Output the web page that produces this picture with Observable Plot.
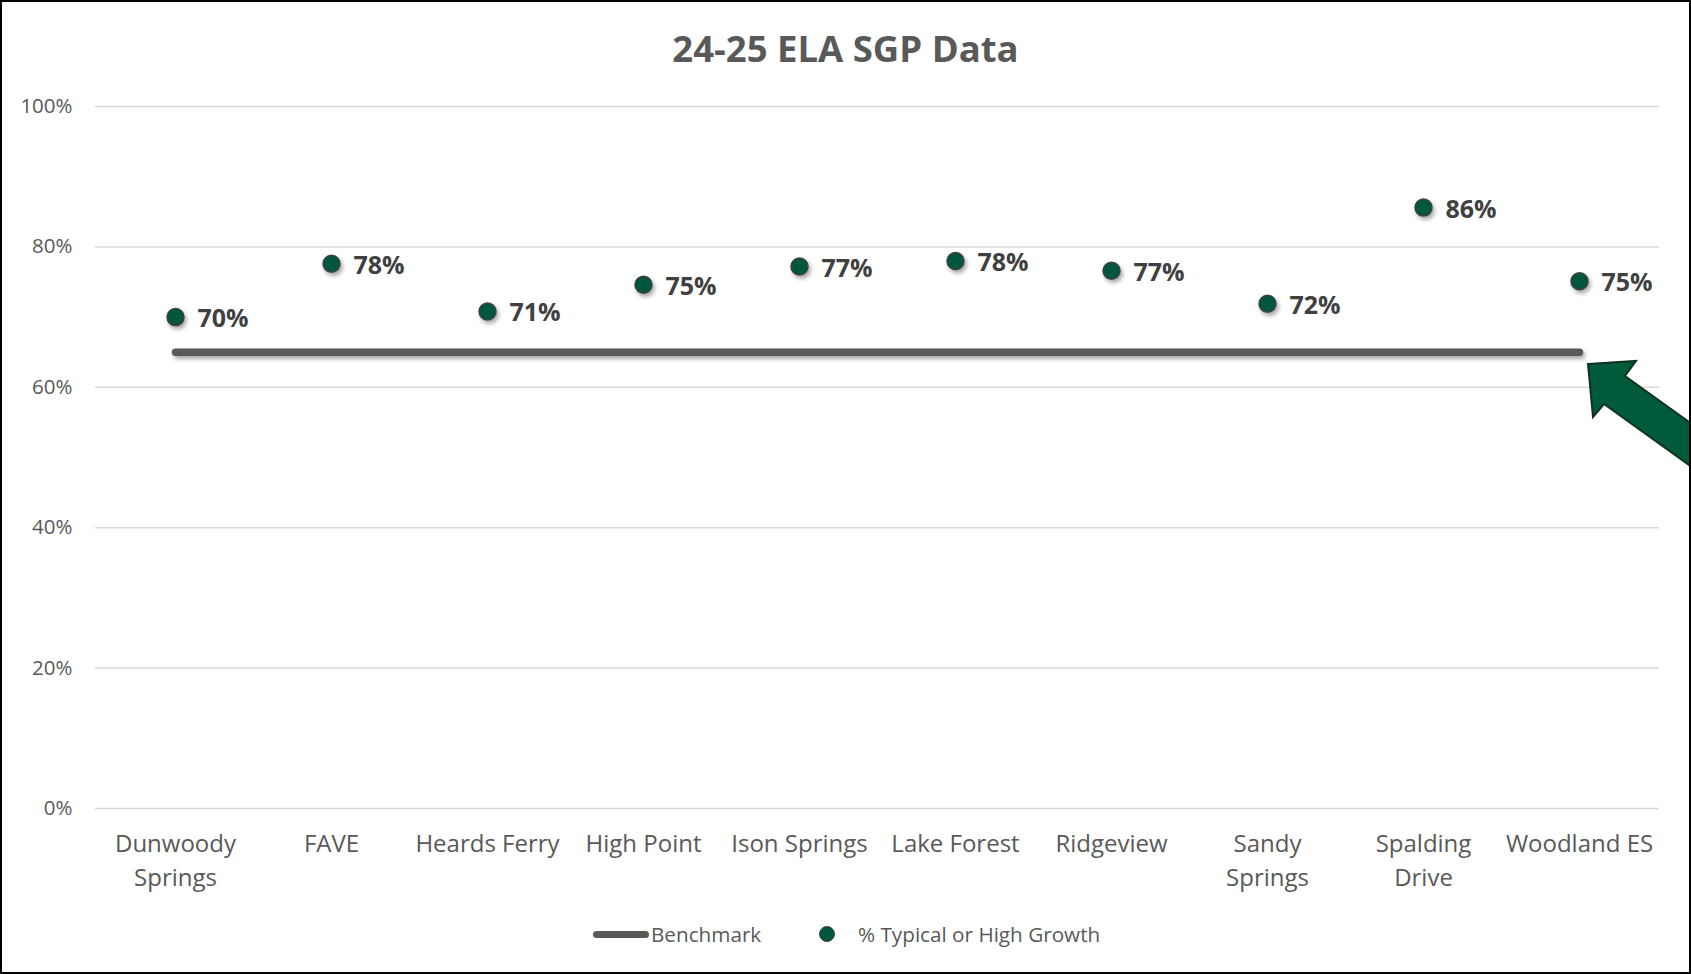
<!DOCTYPE html>
<html><head><meta charset="utf-8">
<script src="https://cdn.jsdelivr.net/npm/d3@7"></script>
<script src="https://cdn.jsdelivr.net/npm/@observablehq/plot@0.6"></script>
<style>
html,body{margin:0;padding:0;background:#fff;}
#frame{position:relative;width:1687px;height:970px;border:2px solid #000;overflow:hidden;font-family:"Open Sans",sans-serif;background:#fff;}
#title{position:absolute;left:0;top:28px;width:100%;text-align:center;font-size:36.5px;line-height:36px;font-weight:700;color:#595959;}
#chart{position:absolute;left:0;top:58px;}
#legend{position:absolute;left:0;top:0;width:100%;height:100%;pointer-events:none;}
.lg{position:absolute;font-size:20.7px;line-height:20px;color:#595959;}
#arrow{position:absolute;left:-2px;top:-2px;}
#chart g[aria-label="line"], #chart g[aria-label="dot"]{filter:drop-shadow(2px 3px 2px rgba(0,0,0,0.35));}
</style></head>
<body>
<div id="frame">
  <div id="title">24-25 ELA SGP Data</div>
  <div id="chart"></div>
  <div id="legend">
    <div style="position:absolute;left:591px;top:929px;width:56px;height:7px;border-radius:4px;background:#595959;"></div>
    <div class="lg" style="left:649px;top:922px;">Benchmark</div>
    <div style="position:absolute;left:817px;top:924px;width:14px;height:14px;border-radius:50%;background:#00573f;border:1px solid #404040;"></div>
    <div class="lg" style="left:856px;top:922px;">% Typical or High Growth</div>
  </div>
  <svg id="arrow" width="1691" height="974">
    <polygon points="1588,364 1636,361 1625,376 1700,430 1700,473 1604,404 1593,417" fill="#005a3c" stroke="#12311f" stroke-width="2" stroke-linejoin="miter"/>
  </svg>
</div>
<script>
const schools = ["Dunwoody Springs","FAVE","Heards Ferry","High Point","Ison Springs","Lake Forest","Ridgeview","Sandy Springs","Spalding Drive","Woodland ES"];
const schoolTickLabels = ["Dunwoody\nSprings","FAVE","Heards Ferry","High Point","Ison Springs","Lake Forest","Ridgeview","Sandy\nSprings","Spalding\nDrive","Woodland ES"];
const typicalOrHighGrowth = [0.700, 0.776, 0.708, 0.746, 0.772, 0.780, 0.766, 0.719, 0.856, 0.751];
const benchmark = [0.65, 0.65, 0.65, 0.65, 0.65, 0.65, 0.65, 0.65, 0.65, 0.65];
const yTicks = [0, 0.2, 0.4, 0.6, 0.8, 1.0];

const points = schools.map((s, i) => ({school: s, value: typicalOrHighGrowth[i]}));
const bench = schools.map((s, i) => ({school: s, value: benchmark[i]}));
const tickMap = new Map(schools.map((s, i) => [s, schoolTickLabels[i]]));

const chart = Plot.plot({
  width: 1687,
  height: 840,
  marginTop: 46,
  marginBottom: 92,
  marginLeft: 93,
  marginRight: 30,
  style: {fontFamily: "'Open Sans', sans-serif", background: "transparent", overflow: "visible"},
  x: {type: "band", domain: schools, padding: 0, align: 0.5, label: null},
  y: {domain: [0, 1], label: null},
  marks: [
    Plot.gridY(yTicks, {stroke: "#d9d9d9", strokeOpacity: 1, strokeWidth: 1.5}),
    Plot.axisY(yTicks, {tickSize: 0, tickPadding: 23, tickFormat: d3.format(".0%"), fontSize: 20.5, fill: "#595959", label: null}),
    Plot.axisX({tickSize: 0, tickPadding: 20, tickFormat: d => tickMap.get(d), fontSize: 24, fill: "#595959", lineHeight: 1.4, label: null}),
    Plot.lineY(bench, {x: "school", y: "value", stroke: "#595959", strokeWidth: 7.5, strokeLinecap: "round"}),
    Plot.dot(points, {x: "school", y: "value", r: 8.5, fill: "#00573f", stroke: "#404040", strokeWidth: 1.5}),
    Plot.text(points, {x: "school", y: "value", text: d => d3.format(".0%")(d.value), textAnchor: "start", dx: 22, dy: 2, fontSize: 25, fontWeight: 700, fill: "#404040"})
  ]
});
document.getElementById("chart").appendChild(chart);
</script>
</body></html>
